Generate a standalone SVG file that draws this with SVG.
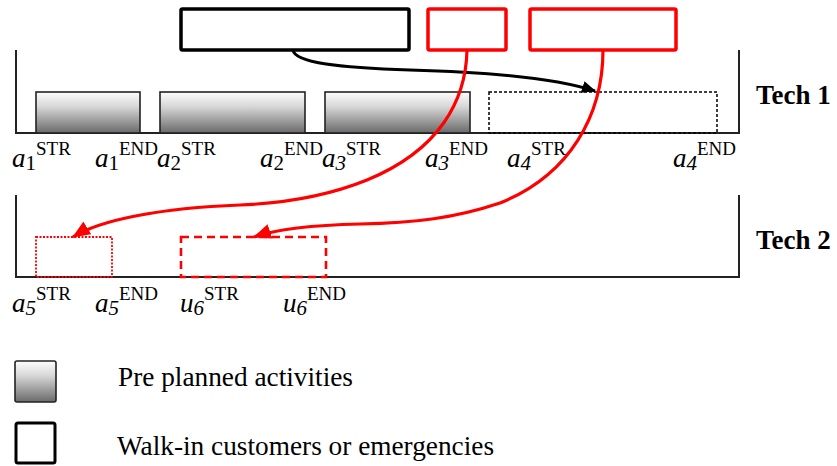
<svg xmlns="http://www.w3.org/2000/svg" width="837" height="466" viewBox="0 0 837 466" font-family="'Liberation Serif', 'Times New Roman', serif">
  <style>
    .frame { fill: none; stroke: #222; stroke-width: 2; }
    .planned { fill: url(#shade); stroke: #222; stroke-width: 1.6; }
    .slot { fill: none; stroke: #000; stroke-width: 1.5; stroke-dasharray: 3 2; }
    .walkin { fill: #fff; stroke: #000; stroke-width: 3.5; }
    .urgent { fill: #fff; stroke: #f00; stroke-width: 3.5; }
    .moved-dot { fill: none; stroke: #f00; stroke-width: 1.8; stroke-dasharray: 2 1.5; }
    .moved-dash { fill: none; stroke: #f00; stroke-width: 2.6; stroke-dasharray: 8 5; }
    text { font-family: "Liberation Serif", "Times New Roman", serif; fill: #000; }
    .var { font-style: italic; font-size: 27px; }
    .sub { font-size: 21px; }
    .sup { font-size: 19px; }
    .tech { font-weight: bold; font-size: 27px; }
    .legend { font-size: 27.3px; }
    .link-black { fill: none; stroke: #000; stroke-width: 3; }
    .link-red { fill: none; stroke: #f00; stroke-width: 3.2; }
  </style>
  <defs>
    <linearGradient id="shade" x1="0" y1="0" x2="0" y2="1">
      <stop offset="0" stop-color="#fdfdfd"/>
      <stop offset="0.35" stop-color="#d8d8d8"/>
      <stop offset="1" stop-color="#6a6a6a"/>
    </linearGradient>
    <marker id="head-black" markerUnits="userSpaceOnUse" markerWidth="14" markerHeight="12" refX="13" refY="6" orient="auto">
      <path d="M0,0 L14,6 L0,12 z" fill="#000"/>
    </marker>
    <marker id="head-red" markerUnits="userSpaceOnUse" markerWidth="18" markerHeight="15" refX="17" refY="7.5" orient="auto">
      <path d="M0,0 L18,7.5 L0,15 z" fill="#f00"/>
    </marker>
  </defs>

  <!-- Tech 1 timeline -->
  <g id="tech1">
    <path class="frame" d="M16,50 V133 H739 V50"/>
    <text class="tech" x="756" y="104">Tech 1</text>
  </g>
  <g id="a1"><rect class="planned" x="36" y="92" width="104" height="41"/></g>
  <g id="a2"><rect class="planned" x="160" y="92" width="145" height="41"/></g>
  <g id="a3"><rect class="planned" x="325" y="92" width="145" height="41"/></g>
  <g id="a4"><rect class="slot" x="489" y="92" width="228" height="41"/></g>

  <!-- Tech 2 timeline -->
  <g id="tech2">
    <path class="frame" d="M16,195 V277 H739 V195"/>
    <text class="tech" x="756" y="249">Tech 2</text>
  </g>
  <g id="a5"><rect class="moved-dot" x="36" y="237" width="76" height="40"/></g>
  <g id="u6"><rect class="moved-dash" x="181" y="237" width="145" height="40"/></g>

  <!-- incoming requests -->
  <g id="walkin"><rect class="walkin" x="181" y="9" width="228" height="41" rx="1.5"/></g>
  <g id="emergency1"><rect class="urgent" x="428" y="9" width="78" height="41" rx="1.5"/></g>
  <g id="emergency2"><rect class="urgent" x="530" y="9" width="146" height="41" rx="1.5"/></g>

  <!-- connectors -->
  <g id="connectors">
    <path class="link-black" d="M293,50 C295,63 340,68 410,70 C490,72 555,78 595,91" marker-end="url(#head-black)"/>
    <path class="link-red" d="M467,50 C466,100 440,150 367,180 C330,195 290,203 240,205 C160,208 100,220 73,237" marker-end="url(#head-red)"/>
    <path class="link-red" d="M603,50 C603,115 570,175 500,203 C455,218 415,223 360,224 C315,225 280,228 254,237" marker-end="url(#head-red)"/>
  </g>

  <!-- time labels, Tech 1 -->
  <g id="labels-tech1">
    <text x="12" y="167"><tspan class="var">a</tspan><tspan class="sub" dy="3">1</tspan><tspan class="sup" dy="-15">STR</tspan></text>
    <text x="95" y="167"><tspan class="var">a</tspan><tspan class="sub" dy="3">1</tspan><tspan class="sup" dy="-15">END</tspan></text>
    <text x="157" y="167"><tspan class="var">a</tspan><tspan class="sub" dy="3">2</tspan><tspan class="sup" dy="-15">STR</tspan></text>
    <text x="260" y="167"><tspan class="var">a</tspan><tspan class="sub" dy="3">2</tspan><tspan class="sup" dy="-15">END</tspan></text>
    <text x="322" y="167"><tspan class="var">a</tspan><tspan class="sub" dy="3" font-style="italic">3</tspan><tspan class="sup" dy="-15">STR</tspan></text>
    <text x="425" y="167"><tspan class="var">a</tspan><tspan class="sub" dy="3" font-style="italic">3</tspan><tspan class="sup" dy="-15">END</tspan></text>
    <text x="507" y="167"><tspan class="var">a</tspan><tspan class="sub" dy="3" font-style="italic">4</tspan><tspan class="sup" dy="-15">STR</tspan></text>
    <text x="673" y="167"><tspan class="var">a</tspan><tspan class="sub" dy="3" font-style="italic">4</tspan><tspan class="sup" dy="-15">END</tspan></text>
  </g>

  <!-- time labels, Tech 2 -->
  <g id="labels-tech2">
    <text x="12" y="312"><tspan class="var">a</tspan><tspan class="sub" dy="3" font-style="italic">5</tspan><tspan class="sup" dy="-15">STR</tspan></text>
    <text x="95" y="312"><tspan class="var">a</tspan><tspan class="sub" dy="3" font-style="italic">5</tspan><tspan class="sup" dy="-15">END</tspan></text>
    <text x="180" y="312"><tspan class="var">u</tspan><tspan class="sub" dy="3" font-style="italic">6</tspan><tspan class="sup" dy="-15">STR</tspan></text>
    <text x="283" y="312"><tspan class="var">u</tspan><tspan class="sub" dy="3" font-style="italic">6</tspan><tspan class="sup" dy="-15">END</tspan></text>
  </g>

  <!-- legend -->
  <g id="legend-planned">
    <rect class="planned" x="15" y="361" width="41" height="41" rx="2"/>
    <text class="legend" x="118" y="386">Pre planned activities</text>
  </g>
  <g id="legend-walkin">
    <rect x="16" y="423" width="39" height="40" rx="2" fill="#fff" stroke="#000" stroke-width="3"/>
    <text class="legend" x="117" y="455">Walk-in customers or emergencies</text>
  </g>
</svg>
